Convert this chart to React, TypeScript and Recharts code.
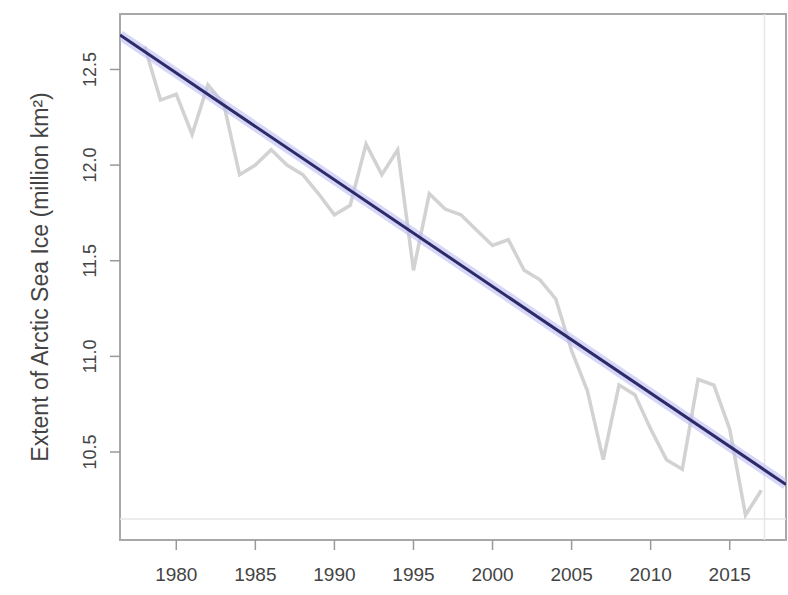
import React from "react";
import { ComposedChart, Line, XAxis, YAxis, ReferenceArea, ReferenceLine } from "recharts";

const years = [1978, 1979, 1980, 1981, 1982, 1983, 1984, 1985, 1986, 1987, 1988, 1989, 1990, 1991, 1992, 1993, 1994, 1995, 1996, 1997, 1998, 1999, 2000, 2001, 2002, 2003, 2004, 2005, 2006, 2007, 2008, 2009, 2010, 2011, 2012, 2013, 2014, 2015, 2016, 2017];
const extent = [12.62, 12.34, 12.37, 12.16, 12.42, 12.32, 11.95, 12.0, 12.08, 12.0, 11.95, 11.85, 11.74, 11.79, 12.11, 11.95, 12.08, 11.45, 11.85, 11.77, 11.74, 11.66, 11.58, 11.61, 11.45, 11.4, 11.3, 11.03, 10.82, 10.46, 10.85, 10.8, 10.62, 10.46, 10.41, 10.88, 10.85, 10.62, 10.17, 10.3];
const trendYears = [1976.44, 2018.56];
const trendValues = [12.68, 10.33];
const xTicks = [1980, 1985, 1990, 1995, 2000, 2005, 2010, 2015];
const yTicks = [10.5, 11.0, 11.5, 12.0, 12.5];
const xDomain = [1976.44, 2018.56];
const yDomain = [10.04, 12.79];
const yLabel = "Extent of Arctic Sea Ice (million km²)";

const seriesData = years.map((y, i) => ({ year: y, value: extent[i] }));
const trendData = trendYears.map((y, i) => ({ year: y, value: trendValues[i] }));

const FONT = "Liberation Sans, Arial, sans-serif";

const YTick = (props: any) => {
  const { x, y, payload } = props;
  return (
    <text
      transform={`translate(${x - 18},${y}) rotate(-90)`}
      textAnchor="middle"
      dominantBaseline="central"
      fontSize={18}
      fontFamily={FONT}
      fill="#444"
    >
      {Number(payload.value).toFixed(1)}
    </text>
  );
};

const YLabel = (props: any) => {
  const vb = props.viewBox || {};
  const cy = vb.y + vb.height / 2;
  return (
    <text
      transform={`translate(40,${cy}) rotate(-90)`}
      textAnchor="middle"
      dominantBaseline="central"
      fontSize={23}
      fontFamily={FONT}
      fill="#444"
    >
      {yLabel}
    </text>
  );
};

export default function App() {
  return (
    <div style={{ position: "absolute", left: 0, top: 0, width: 788, height: 595, background: "#fff" }}>
      <ComposedChart width={788} height={595} margin={{ top: 14, right: 2, left: 0, bottom: 0 }}>
        <XAxis
          dataKey="year"
          type="number"
          domain={xDomain}
          ticks={xTicks}
          allowDataOverflow
          axisLine={false}
          tickSize={10}
          tickMargin={18}
          height={55}
          tickLine={{ stroke: "#999", strokeWidth: 1.5 }}
          tick={{ fontSize: 19, fontFamily: FONT, fill: "#444" }}
        />
        <YAxis
          type="number"
          domain={yDomain}
          ticks={yTicks}
          allowDataOverflow
          axisLine={false}
          tickSize={10}
          width={120}
          tickLine={{ stroke: "#999", strokeWidth: 1.5 }}
          tick={<YTick />}
          label={<YLabel />}
        />
        <ReferenceLine y={10.15} stroke="#e6e6e6" strokeWidth={1.5} />
        <ReferenceLine x={2017.2} stroke="#e6e6e6" strokeWidth={1.5} />
        <Line
          data={seriesData}
          dataKey="value"
          type="linear"
          stroke="#d2d2d2"
          strokeWidth={3.5}
          dot={false}
          isAnimationActive={false}
        />
        <Line
          data={trendData}
          dataKey="value"
          type="linear"
          stroke="#bcbcf2"
          strokeOpacity={0.6}
          strokeWidth={10}
          dot={false}
          isAnimationActive={false}
        />
        <Line
          data={trendData}
          dataKey="value"
          type="linear"
          stroke="#2e2a6a"
          strokeWidth={3}
          dot={false}
          isAnimationActive={false}
        />
        <ReferenceArea
          x1={xDomain[0]}
          x2={xDomain[1]}
          y1={yDomain[0]}
          y2={yDomain[1]}
          fill="none"
          fillOpacity={0}
          stroke="#a8a8a8"
          strokeWidth={2}
          ifOverflow="visible"
        />
      </ComposedChart>
    </div>
  );
}
